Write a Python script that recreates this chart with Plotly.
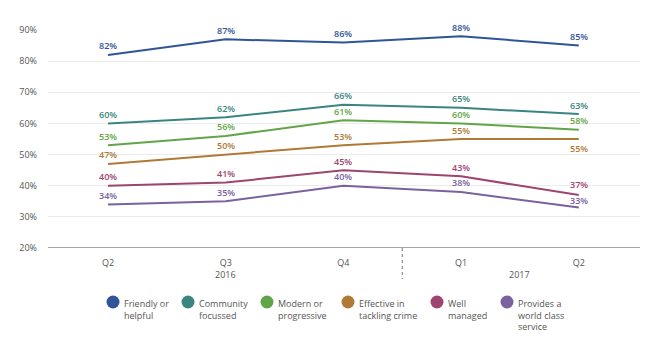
import plotly.graph_objects as go

quarters = ["Q2", "Q3", "Q4", "Q1", "Q2"]
years = ["2016", "2017"]
series_names = ["Friendly or<br>helpful", "Community<br>focussed", "Modern or<br>progressive",
                "Effective in<br>tackling crime", "Well<br>managed", "Provides a<br>world class<br>service"]
friendly = [82, 87, 86, 88, 85]
community = [60, 62, 66, 65, 63]
modern = [53, 56, 61, 60, 58]
effective = [47, 50, 53, 55, 55]
well_managed = [40, 41, 45, 43, 37]
world_class = [34, 35, 40, 38, 33]
y_ticks = [20, 30, 40, 50, 60, 70, 80, 90]

all_values = [friendly, community, modern, effective, well_managed, world_class]
colors = ["#2F5598", "#3A8580", "#62A548", "#B07A36", "#9C4570", "#7A629F"]
# vertical offset (px) of each value label relative to its point
label_shift = [
    [9] * 5,
    [9] * 5,
    [9] * 5,
    [9, 9, 9, 9, -9],
    [9, 9, 9, 9, 11],
    [9, 9, 9, 9, 7],
]

# the browser page has an 8px body margin; the figure sits inside it
OFF = 8
W, H = 650 - 2 * OFF, 357 - 2 * OFF
ML, MT = 48 - OFF, 30 - OFF
MR = W - (640 - OFF)
MB = H - (248 - OFF)
PW, PH = W - ML - MR, H - MT - MB

legend_x_px = [113, 188, 267, 348, 437, 507]  # page pixels of legend dots
legend_y_px = 302

x = list(range(len(quarters)))
fig = go.Figure()
for vals, col, shifts in zip(all_values, colors, label_shift):
    fig.add_trace(go.Scatter(
        x=x, y=vals, mode="lines", line=dict(color=col, width=2),
        showlegend=False, hoverinfo="skip"))
    for xi, v, s in zip(x, vals, shifts):
        fig.add_annotation(x=xi, y=v, xref="x", yref="y", text=f"{v}%", showarrow=False,
                           yshift=s, yanchor="middle",
                           font=dict(family="Open Sans", size=9, color=col, weight=600))

# manual legend
base_px = 248  # page y of the plot bottom
for name, col, px in zip(series_names, colors, legend_x_px):
    xp = (px - 48) / PW
    yc = -(legend_y_px - base_px) / PH
    fig.add_shape(type="circle", xref="paper", yref="paper", xsizemode="pixel",
                  ysizemode="pixel", xanchor=xp, yanchor=yc, x0=-6.5, x1=6.5, y0=-6.5, y1=6.5,
                  fillcolor=col, line=dict(width=0))
    fig.add_annotation(x=xp, y=-(legend_y_px - 7 - base_px) / PH, xref="paper", yref="paper",
                       text=name, showarrow=False, xanchor="left", yanchor="top", align="left",
                       xshift=9, font=dict(family="Open Sans", size=9, color="#555555"))

fig.update_layout(
    width=W, height=H,
    margin=dict(l=ML, r=MR, t=MT, b=MB),
    paper_bgcolor="white", plot_bgcolor="white",
    font=dict(family="Open Sans", size=9, color="#555555"),
    xaxis=dict(range=[-0.51, 4.52], tickvals=x, ticktext=quarters, showgrid=False,
               zeroline=False, showline=False, ticks="", ticklabelstandoff=8,
               tickfont=dict(size=9, color="#555555")),
    yaxis=dict(range=[20, 90], tickvals=y_ticks, ticktext=[f"{t}%" for t in y_ticks],
               showgrid=True, gridcolor="#EBEBEB", gridwidth=1, zeroline=False,
               showline=False, ticks="", ticklabelstandoff=10,
               tickfont=dict(size=9, color="#555555")),
    showlegend=False,
)
# baseline
fig.add_shape(type="line", xref="paper", yref="y", x0=0, x1=1, y0=20, y1=20,
              line=dict(color="#A6A6A6", width=2))
# year divider
fig.add_shape(type="line", xref="x", yref="paper", x0=2.5, x1=2.5, y0=0, y1=-31 / PH,
              line=dict(color="#777777", width=1, dash="dot"))
fig.add_annotation(x=1, y=-26 / PH, xref="x", yref="paper", text=years[0], showarrow=False,
                   yanchor="middle", font=dict(size=9, color="#555555"))
fig.add_annotation(x=3.5, y=-26 / PH, xref="x", yref="paper", text=years[1], showarrow=False,
                   yanchor="middle", font=dict(size=9, color="#555555"))

fig.write_html("out.html")
